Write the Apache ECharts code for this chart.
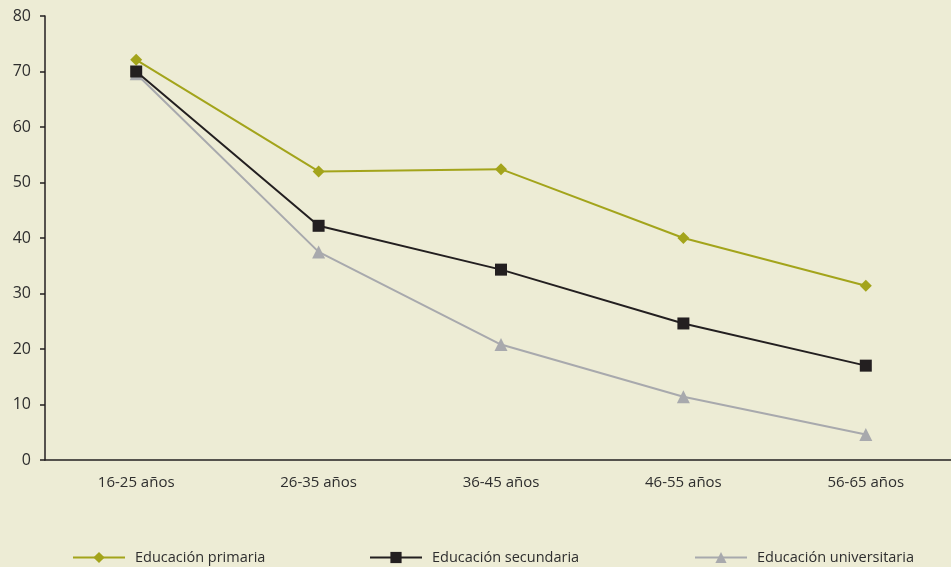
<!DOCTYPE html>
<html>
<head>
<meta charset="utf-8">
<script src="https://cdn.jsdelivr.net/npm/echarts@6/dist/echarts.min.js"></script>
<style>
    html, body { margin: 0; padding: 0; background: #edecd5; overflow: hidden; }
    #chart { width: 957px; height: 567px; }
</style>
</head>
<body>
<div id="chart"></div>
<script>
// categorias y series
const categories = ["16-25 años", "26-35 años", "36-45 años", "46-55 años", "56-65 años"];
const primaria = [72.1, 52.0, 52.4, 40.0, 31.4];
const secundaria = [70.0, 42.2, 34.3, 24.6, 17.0];
const universitaria = [69.6, 37.5, 20.8, 11.4, 4.6];
const seriesNames = ["Educación primaria", "Educación secundaria", "Educación universitaria"];

const colors = ["#a3a41b", "#231f20", "#a8a9ad"];
const textColor = "#2e2e2e";
const font = "Open Sans";

// el div es un poco mas ancho que la ventana: el eje x sigue fuera del borde derecho
let myChart = echarts.init(document.getElementById("chart"));

function legendAt(name, left) {
    return {
        data: [name],
        left: left,
        top: 545,
        itemWidth: 52,
        itemHeight: 14,
        textStyle: { color: textColor, fontSize: 14.5, fontFamily: font, padding: [0, 0, 0, 5] }
    };
}

let option = {
    backgroundColor: "#edecd5",
    animation: false,
    color: colors,
    legend: [
        legendAt(seriesNames[0], 67),
        legendAt(seriesNames[1], 364),
        legendAt(seriesNames[2], 689)
    ],
    grid: { left: 45, top: 16, right: 0, bottom: 107, containLabel: false },
    xAxis: {
        type: "category",
        data: categories,
        boundaryGap: true,
        axisLine: { lineStyle: { color: "#231f20", width: 1.5 } },
        axisTick: { show: false },
        axisLabel: { color: textColor, fontSize: 15, fontFamily: font, margin: 15 }
    },
    yAxis: {
        type: "value",
        min: 0,
        max: 80,
        interval: 10,
        splitLine: { show: false },
        axisLine: { show: true, lineStyle: { color: "#231f20", width: 1.5 } },
        axisTick: { show: true, length: 5, lineStyle: { color: "#231f20", width: 1.5 } },
        axisLabel: { color: textColor, fontSize: 16, fontFamily: font, margin: 14 }
    },
    series: [
        {
            name: seriesNames[0],
            type: "line",
            data: primaria,
            symbol: "diamond",
            symbolSize: 12,
            lineStyle: { width: 2 },
            z: 3
        },
        {
            name: seriesNames[1],
            type: "line",
            data: secundaria,
            symbol: "rect",
            symbolSize: 12,
            lineStyle: { width: 2 },
            z: 4
        },
        {
            name: seriesNames[2],
            type: "line",
            data: universitaria,
            symbol: "triangle",
            symbolSize: 13,
            lineStyle: { width: 2 },
            z: 2
        }
    ]
};
myChart.setOption(option);
</script>
</body>
</html>
